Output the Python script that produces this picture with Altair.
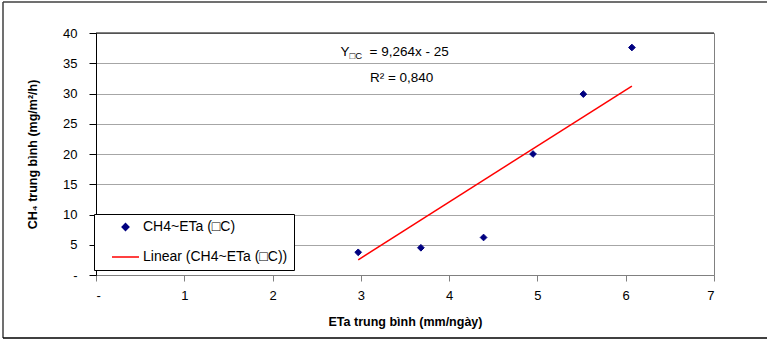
import altair as alt
import pandas as pd

# ---- data ----
eta = [2.97, 3.68, 4.39, 4.95, 5.52, 6.07]          # ETa trung bình (mm/ngày)
ch4 = [3.75, 4.5, 6.2, 20.0, 29.9, 37.6]            # CH4 trung bình (mg/m2/h)
slope = 9.264
intercept = -25.0
x_ticks = [0, 1, 2, 3, 4, 5, 6, 7]
y_ticks = [0, 5, 10, 15, 20, 25, 30, 35, 40]
series_names = ["CH4~ETa (\u25a1C)", "Linear (CH4~ETa (\u25a1C))"]
eq_main = "= 9,264x - 25"
eq_r2 = "R\u00b2 = 0,840"

pts = pd.DataFrame({"x": eta, "y": ch4, "series": series_names[0]})
lx = [min(eta), max(eta)]
line_df = pd.DataFrame({"x": lx, "y": [slope * v + intercept for v in lx], "series": series_names[1]})
one = pd.DataFrame({"k": [0]})

FONT = "Liberation Sans"
W, H = 618, 242

xscale = alt.Scale(domain=[0, 7], nice=False)
yscale = alt.Scale(domain=[0, 40], nice=False)

xaxis = alt.Axis(values=x_ticks, title="ETa trung bình (mm/ngày)", grid=False, format="d",
                 labelExpr="datum.value == 0 ? '-' : datum.label", labelOverlap=False,
                 domainColor="#808080", tickColor="#808080", tickSize=6,
                 labelPadding=8, labelFontSize=13, labelFont=FONT, labelColor="#000",
                 titleFont=FONT, titleFontSize=12.5, titleFontWeight="bold", titleColor="#000",
                 titlePadding=13)
yaxis = alt.Axis(values=y_ticks, title="CH\u2084 trung bình (mg/m\u00b2/h)", format="d",
                 labelExpr="datum.value == 0 ? '-' : datum.label", labelOverlap=False,
                 grid=True, gridColor="#a6a6a6", gridWidth=1,
                 domainColor="#000", tickColor="#000", tickSize=7,
                 labelPadding=12, labelFontSize=13, labelFont=FONT, labelColor="#000",
                 titleFont=FONT, titleFontSize=12.5, titleFontWeight="bold", titleColor="#000",
                 titlePadding=23)

color_scale = alt.Scale(domain=series_names, range=["#000080", "#ff0000"])
shape_scale = alt.Scale(domain=series_names, range=["diamond", "stroke"])
size_scale = alt.Scale(domain=series_names, range=[45, 729])

legend = alt.Legend(
    title=None, orient="none", legendX=-2, legendY=181,
    strokeColor="#000", fillColor="#fff", cornerRadius=0, padding=6,
    symbolOffset=11, labelOffset=3, rowPadding=8.5,
    labelFont=FONT, labelFontSize=14, labelColor="#000",
    symbolStrokeWidth=1.5,
)

# outer chart frame (left, top, bottom edges)
fr_left = alt.Chart(one).mark_rule(color="#404040", strokeWidth=1.5).encode(
    x=alt.value(-93), y=alt.value(-31), y2=alt.value(305))
fr_top = alt.Chart(one).mark_rule(color="#404040", strokeWidth=1.5).encode(
    x=alt.value(-93), x2=alt.value(700), y=alt.value(-31))
fr_bot = alt.Chart(one).mark_rule(color="#000000", strokeWidth=1.5).encode(
    x=alt.value(-93), x2=alt.value(700), y=alt.value(305))

top_rule = alt.Chart(one).mark_rule(color="#000", strokeWidth=1).encode(
    x=alt.value(0), x2=alt.value(W), y=alt.value(0))

line = alt.Chart(line_df).mark_line(color="#ff0000", strokeWidth=1.5).encode(
    x=alt.X("x:Q", scale=xscale, axis=xaxis),
    y=alt.Y("y:Q", scale=yscale, axis=yaxis),
)

points = alt.Chart(pts).mark_point(opacity=1, strokeWidth=1).encode(
    x=alt.X("x:Q", scale=xscale, axis=xaxis),
    y=alt.Y("y:Q", scale=yscale, axis=yaxis),
    fill=alt.Fill("series:N", scale=color_scale, legend=legend),
    stroke=alt.Stroke("series:N", scale=color_scale, legend=legend),
    shape=alt.Shape("series:N", scale=shape_scale, legend=legend),
    size=alt.Size("series:N", scale=size_scale, legend=legend),
)

ann_x, ann_y1, ann_y2 = 3.45, 36.9, 32.6


def txt(text, ypos, dx, dy=0, size=13.5, align="left"):
    return alt.Chart(one).mark_text(text=text, align=align, baseline="middle", dx=dx, dy=dy,
                                    font=FONT, fontSize=size, color="#000").encode(
        x=alt.XDatum(ann_x, scale=xscale, axis=xaxis),
        y=alt.YDatum(ypos, scale=yscale, axis=yaxis))


t_y = txt("Y", ann_y1, -60)
t_sub = txt("\u25a1C", ann_y1, -51, dy=4, size=9.5)
t_eq = txt(eq_main, ann_y1, -31)
t_r2 = txt(eq_r2, ann_y2, 1, align="center")

chart = alt.layer(fr_left, fr_top, fr_bot, line, points, top_rule, t_y, t_sub, t_eq, t_r2).properties(
    width=W, height=H,
    padding={"left": 96, "top": 33, "right": 53, "bottom": 64},
    autosize=alt.AutoSizeParams(type="none"),
    background="#ffffff",
).configure_view(stroke="#808080", strokeWidth=1)

chart.save("out.html", embed_options={"renderer": "svg", "actions": False})
